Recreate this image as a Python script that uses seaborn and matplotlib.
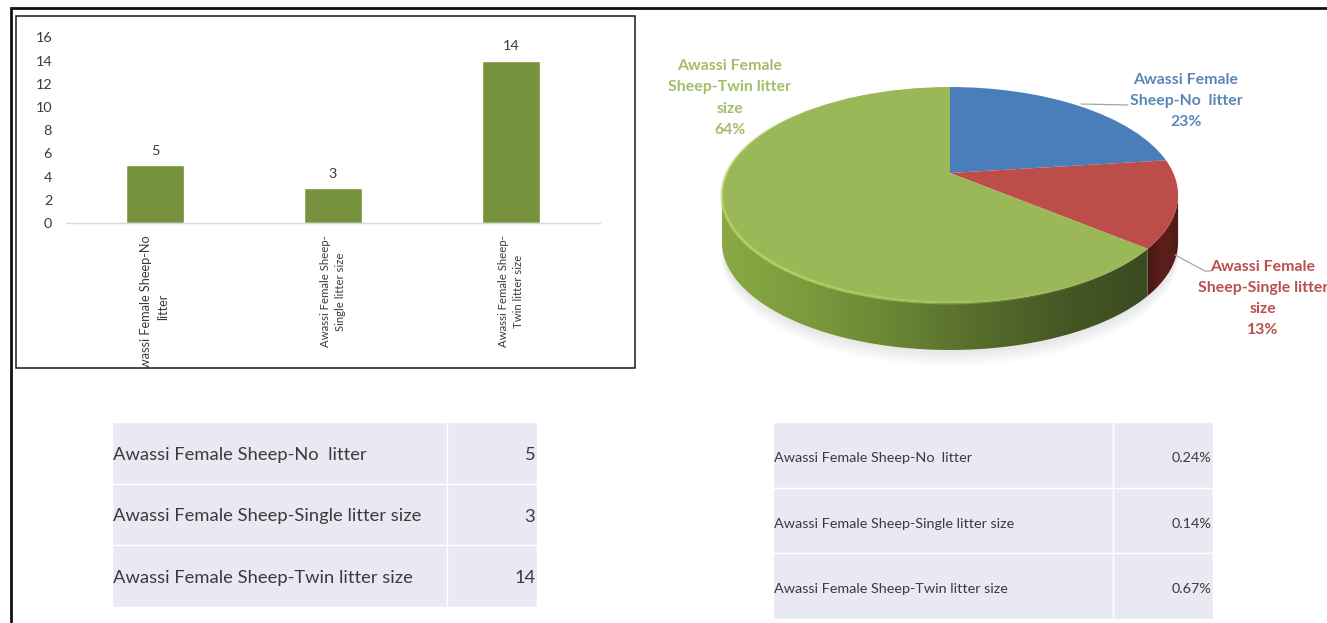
import numpy as np
import matplotlib
matplotlib.use("Agg")
import matplotlib.pyplot as plt
import seaborn as sns
from matplotlib.collections import LineCollection
from matplotlib.colors import LinearSegmentedColormap
from matplotlib.patches import Polygon, Rectangle
from matplotlib.transforms import Affine2D, Bbox, Transform, TransformedBbox

# Data
table_labels = ["Awassi Female Sheep-No  litter",
                "Awassi Female Sheep-Single litter size",
                "Awassi Female Sheep-Twin litter size"]
bar_labels = ["Awassi Female Sheep-No\nlitter",
              "Awassi Female Sheep-\nSingle litter size",
              "Awassi Female Sheep-\nTwin litter size"]
counts = [5, 3, 14]
pie_shares = [23, 13, 64]
pie_labels = ["Awassi Female\nSheep-No  litter\n23%",
              "Awassi Female\nSheep-Single litter\nsize\n13%",
              "Awassi Female\nSheep-Twin litter\nsize\n64%"]
share_text = ["0.24%", "0.14%", "0.67%"]
y_ticks = [0, 2, 4, 6, 8, 10, 12, 14, 16]

W, H = 1327, 623
BAR_GREEN = "#76923c"
PIE_COLORS = ["#4a7ebb", "#bd4d49", "#9ab857"]
LABEL_COLORS = ["#5b87b8", "#b9504d", "#a3bd6b"]
INK = "#3b3b3b"
CELL = "#e8e9f3"

sns.set_theme(style="white")
plt.rcParams["font.family"] = ["Lato", "DejaVu Sans"]

fig = plt.figure(figsize=(W / 100, H / 100), dpi=100, facecolor="white")


def px_axes(left, top, right, bottom, **kw):
    return fig.add_axes([left / W, 1 - bottom / H, (right - left) / W, (bottom - top) / H], **kw)


# Page layer in pixel units: frame, chart box, pie
page = px_axes(0, 0, W, H)
page.set_axis_off()


class TiltedDisc(Transform):
    """Perspective view of the flat unit-radius pie, output in page pixels."""
    input_dims = output_dims = 2
    is_separable = False
    has_inverse = False
    cx, cy = 950.0, 173.0
    a, b, k = 223.3, 103.5, 0.2037

    def transform_non_affine(self, values):
        values = np.asarray(values, dtype=float)
        u, v = values[:, 0], values[:, 1]
        w = 1 + self.k * v
        return np.column_stack([self.cx + self.a * u / w, self.cy - self.b * v / w])


disc = TiltedDisc()


def rim(deg):
    rad = np.radians(deg)
    return disc.transform_non_affine(np.column_stack([np.cos(rad), np.sin(rad)]))


wedges, _ = page.pie(pie_shares, colors=PIE_COLORS, startangle=90, counterclock=False,
                     wedgeprops=dict(linewidth=0))
for w in wedges:
    w.set_transform(disc + page.transData)
    w.set_clip_on(False)
    w.set_zorder(5)

# Soft ground shadow below the disc
DEPTH = 47
edge_lo = 180 + np.degrees(np.arcsin(TiltedDisc.k))
edge_hi = 360 - np.degrees(np.arcsin(TiltedDisc.k))
base = rim(np.linspace(edge_lo - 12, edge_hi + 12, 120))
for grow in np.linspace(2, 16, 8):
    page.fill(base[:, 0], base[:, 1] + DEPTH + grow, color="#808080", alpha=0.018, lw=0, zorder=1)

# Side wall, shaded across the width of the disc
green_wall = LinearSegmentedColormap.from_list(
    "green_wall", ["#8aa945", "#7b9a3c", "#6a8635", "#566d2c", "#465825", "#3c4a20"])
red_wall = LinearSegmentedColormap.from_list("red_wall", ["#4a1714", "#5e1f1c", "#4f1a17"])
walls = [None, red_wall, green_wall]
for w, cmap in zip(wedges, walls):
    if cmap is None:
        continue
    t1, t2 = w.theta1 % 360, w.theta2 % 360
    if t2 <= t1:
        t2 += 360
    if t2 > 360 and t1 > edge_hi:
        t1 -= 360
    lo, hi = max(t1, edge_lo), min(t2, edge_hi)
    top = rim(np.linspace(lo, hi, 200))
    outline = np.vstack([top, top[::-1] + [0, DEPTH]])
    shape = Polygon(outline, closed=True, facecolor="none", edgecolor="none",
                    transform=page.transData)
    page.add_patch(shape)
    x0, x1 = top[:, 0].min(), top[:, 0].max()
    y0, y1 = outline[:, 1].min(), outline[:, 1].max()
    ramp = np.linspace(0, 1, 256)[None, :]
    img = page.imshow(ramp, cmap=cmap, extent=(x0, x1, y1, y0), aspect="auto", zorder=3,
                      interpolation="bilinear")
    img.set_clip_path(shape)

page.set_aspect("auto")
page.set_xlim(0, W)
page.set_ylim(H, 0)
page.set_axis_off()

# Bevel highlight along the lit edge of the disc
ang = np.linspace(edge_lo - 60, edge_hi - 35, 240)
pts = rim(ang)
segs = np.stack([pts[:-1], pts[1:]], axis=1)
glow = np.clip(np.sin(np.linspace(0.1, np.pi, len(segs))) ** 1.6, 0, 1)
rgba = np.tile(matplotlib.colors.to_rgba("#bcd869"), (len(segs), 1))
rgba[:, 3] = 0.75 * glow
page.add_collection(LineCollection(segs, colors=rgba, linewidths=2.2, zorder=6))

# Pie labels and their leader lines
page.plot([1081, 1128], [104, 105], color="#a6a6a6", lw=0.9, zorder=7)
page.plot([1175, 1205, 1211], [255, 271, 271], color="#a6a6a6", lw=0.9, zorder=7)
label_spots = [(1186, 101), (1263, 298.5), (730, 98)]
for txt, col, (x, y) in zip(pie_labels, LABEL_COLORS, label_spots):
    page.text(x, y, txt, color=col, fontsize=11.4, fontweight="bold", ha="center", va="center",
              linespacing=1.66, zorder=8, clip_on=True)

# Outer frame and the box around the bar chart
page.plot([11, 11, W], [H, 8, 8], color="#111111", lw=2.0, solid_joinstyle="miter", zorder=9)
page.add_patch(Rectangle((15.5, 16), 619, 352, fill=False, edgecolor="#1a1a1a", lw=1.1, zorder=9))

# Bar chart
ax = px_axes(66, 37.4, 600, 223)
ax.patch.set_alpha(0)
sns.barplot(x=bar_labels, y=counts, color=BAR_GREEN, saturation=1, width=0.325, ax=ax)
ax.set_ylim(0, 16)
ax.set_xlim(-0.5, 2.5)
ax.set_yticks(y_ticks)
ax.tick_params(axis="y", length=0, pad=10, labelsize=10.4, labelcolor=INK)
ax.tick_params(axis="x", length=0, pad=9, labelsize=8.2, labelcolor=INK)
for s in ["top", "right", "left"]:
    ax.spines[s].set_visible(False)
ax.spines["bottom"].set_color("#d9d9d9")
ax.spines["bottom"].set_linewidth(1)
ax.set_xlabel("")
ax.set_ylabel("")
ax.bar_label(ax.containers[0], labels=[str(c) for c in counts], padding=6, fontsize=10.4, color=INK)
box_clip = TransformedBbox(Bbox([[15.5, 16], [634.5, 368]]), page.transData)
for i, t in enumerate(ax.get_xticklabels()):
    t.set_rotation(90)
    t.set_ha("center")
    t.set_va("top")
    t.set_multialignment("center")
    t.set_linespacing(1.5)
    t.set_clip_box(box_clip)
    t.set_clip_on(True)
    if i == 0:
        # the first label is set a little larger and runs into the chart box
        t.set_fontsize(9.2)


def draw_table(left, top, right, bottom, divider, values, size, drop):
    tax = px_axes(left, top, right, bottom)
    tax.set_axis_off()
    rows = [[lab, val] for lab, val in zip(table_labels, values)]
    frac = (divider - left) / (right - left)
    tbl = tax.table(cellText=rows, colWidths=[frac, 1 - frac], bbox=[0, 0, 1, 1], cellLoc="left")
    tbl.auto_set_font_size(False)
    for (r, c), cell in tbl.get_celld().items():
        cell.set_facecolor(CELL)
        cell.set_edgecolor("white")
        cell.set_linewidth(1.0)
        cell.PAD = 0.003 if c == 0 else 0.012
        txt = cell.get_text()
        txt.set_fontsize(size)
        txt.set_color(INK)
        txt.set_transform(Affine2D().translate(0, -drop))
        if c == 1:
            txt.set_ha("right")
            cell._loc = "right"


draw_table(112, 422, 536.5, 607, 447, [str(c) for c in counts], 13.2, 2)
draw_table(773, 422, 1213, 619, 1113, share_text, 10.4, 3)

fig.savefig("out.png", dpi=100, facecolor="white")
